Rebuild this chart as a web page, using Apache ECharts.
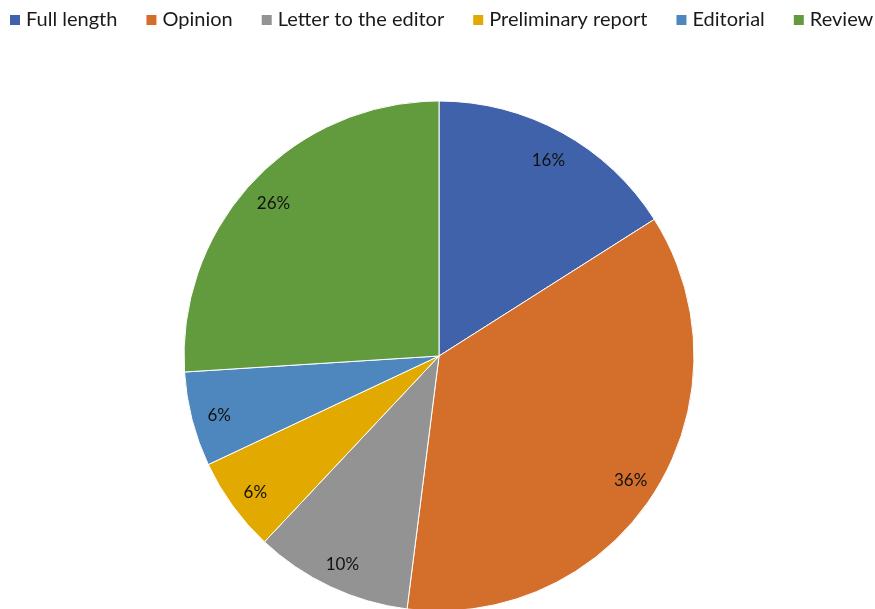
<!DOCTYPE html>
<html><head><meta charset="utf-8">
<script src="https://cdn.jsdelivr.net/npm/echarts@6/dist/echarts.min.js"></script>
<style>html,body{margin:0;padding:0;background:#fff}#c{width:875px;height:609px}</style>
</head><body><div id="c"></div>
<script>
const categories = ['Full length','Opinion','Letter to the editor','Preliminary report','Editorial','Review'];
const values = [16, 36, 10, 6, 6, 26];
const colors = ['#3F62AB','#D46F2B','#939393','#E2AA00','#4E87BD','#629A3E'];

const data = categories.map((n,i)=>({name:n, value:values[i], itemStyle:{color:colors[i]}}));
const chart = echarts.init(document.getElementById('c'));
chart.setOption({
  animation:false,
  legend:{
    top:10, left:8, width:866, padding:0, icon:'rect', itemWidth:12, itemHeight:12, itemGap:27,
    textStyle:{fontFamily:'Lato', fontSize:20, color:'#1a1a1a'},
    data:categories
  },
  series:[
    {type:'pie', center:[439,356], radius:[0,255], startAngle:90, clockwise:true,
     silent:true, label:{show:false}, labelLine:{show:false},
     itemStyle:{borderColor:'#fff', borderWidth:1}, data:data},
    {type:'pie', center:[439,359], radius:[192,256], startAngle:90, clockwise:true,
     silent:true, legendHoverLink:false,
     itemStyle:{color:'rgba(0,0,0,0)', borderWidth:0},
     label:{show:true, position:'inside', formatter: p=>p.value+'%', fontFamily:'Lato', fontSize:17, color:'#111'},
     labelLine:{show:false},
     data:categories.map((n,i)=>({name:n+' ', value:values[i]}))}
  ]
});
</script></body></html>
